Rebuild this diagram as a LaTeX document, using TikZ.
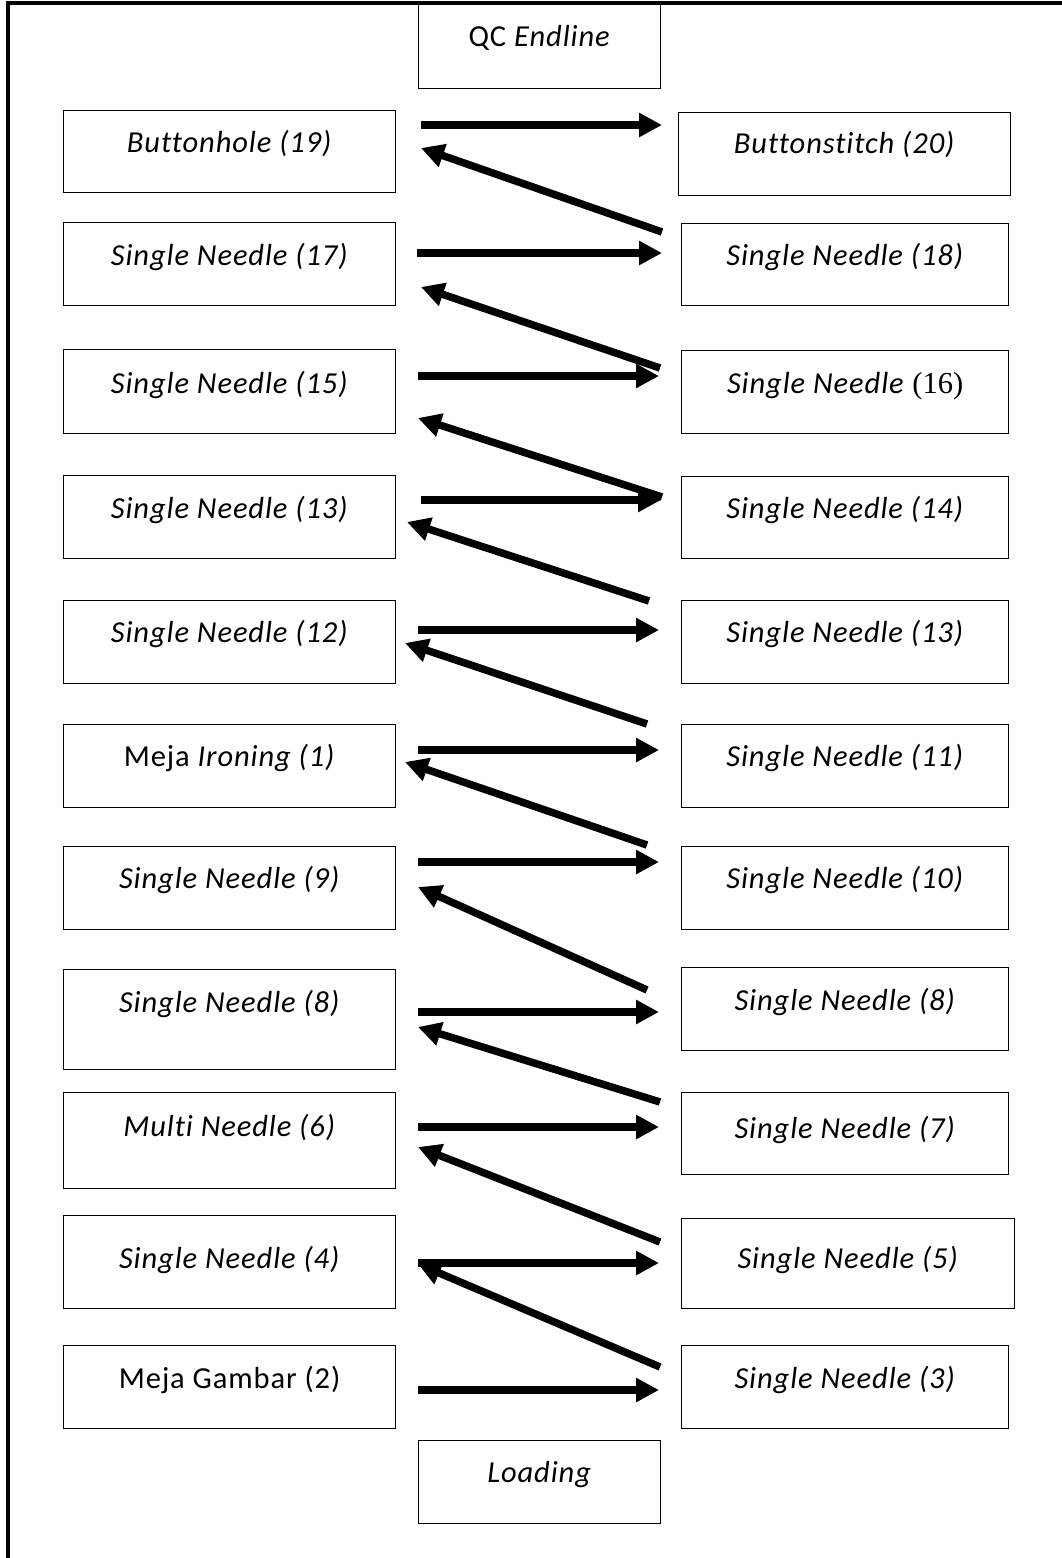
\documentclass[tikz,border=0pt]{standalone}
\usepackage{fontspec}
\setmainfont{Carlito}[Ligatures={NoCommon}, LetterSpace=3]
\newfontfamily\serifT{Liberation Serif}
\usetikzlibrary{arrows.meta}
\newcommand\bx[7]{\node[box, minimum width=#4pt, text height=#5pt, text depth=#6pt] (#1) at (#2,#3) {#7};}
\begin{document}
\begin{tikzpicture}[x=1pt,y=-1pt,
  box/.style={draw, line width=1.3pt, inner sep=0pt, anchor=north west, font=\fontsize{30.5}{36}\selectfont},
  flow/.style={line width=7.5pt, -{Triangle[length=23pt,width=23pt]}}]
\useasboundingbox (0,0) rectangle (1062,1558);
\coordinate (fb) at (8,1558);
\coordinate (ftl) at (8,3);
\coordinate (ftr) at (1062,3);
\draw[line width=4pt] (fb) -- (ftl) -- (ftr);

\bx{QC}{418}{4}{242}{42}{42}{QC \textit{Endline}}
\bx{L1}{63}{110}{332}{42}{40}{\textit{Buttonhole (19)}}
\bx{R1}{678}{112}{332}{41}{42}{\textit{Buttonstitch (20)}}
\bx{L2}{63}{222}{332}{43}{40}{\textit{Single Needle (17)}}
\bx{R2}{681}{223}{327}{42}{40}{\textit{Single Needle (18)}}
\bx{L3}{63}{349}{332}{44}{40}{\textit{Single Needle (15)}}
\bx{R3}{681}{350}{327}{43}{40}{\textit{Single Needle} {\serifT (16)}}
\bx{L4}{63}{475}{332}{43}{40}{\textit{Single Needle (13)}}
\bx{R4}{681}{476}{327}{42}{40}{\textit{Single Needle (14)}}
\bx{L5}{63}{600}{332}{42}{41}{\textit{Single Needle (12)}}
\bx{R5}{681}{600}{327}{42}{41}{\textit{Single Needle (13)}}
\bx{L6}{63}{724}{332}{42}{41}{Meja \textit{Ironing (1)}}
\bx{R6}{681}{724}{327}{42}{41}{\textit{Single Needle (11)}}
\bx{L7}{63}{846}{332}{42}{41}{\textit{Single Needle (9)}}
\bx{R7}{681}{846}{327}{42}{41}{\textit{Single Needle (10)}}
\bx{L8}{63}{969}{332}{43}{57}{\textit{Single Needle (8)}}
\bx{R8}{681}{967}{327}{43}{40}{\textit{Single Needle (8)}}
\bx{L9}{63}{1092}{332}{44}{52}{\textit{Multi Needle (6)}}
\bx{R9}{681}{1092}{327}{46}{36}{\textit{Single Needle (7)}}
\bx{L10}{63}{1215}{332}{53}{40}{\textit{Single Needle (4)}}
\bx{R10}{681}{1218}{333}{50}{40}{\textit{Single Needle (5)}}
\bx{L11}{63}{1345}{332}{43}{40}{Meja Gambar (2)}
\bx{R11}{681}{1345}{327}{43}{40}{\textit{Single Needle (3)}}
\bx{LD}{418}{1440}{242}{42}{41}{\textit{Loading}}

% right-going arrows
\coordinate (r1s) at (421,125);  \coordinate (r1e) at (662,125);
\coordinate (r2s) at (417,253);  \coordinate (r2e) at (662,253);
\coordinate (r3s) at (418,376);  \coordinate (r3e) at (659,376);
\coordinate (r4s) at (421,500);  \coordinate (r4e) at (661,500);
\coordinate (r5s) at (418,630);  \coordinate (r5e) at (659,630);
\coordinate (r6s) at (418,750);  \coordinate (r6e) at (659,750);
\coordinate (r7s) at (418,862);  \coordinate (r7e) at (659,862);
\coordinate (r8s) at (418,1012); \coordinate (r8e) at (659,1012);
\coordinate (r9s) at (418,1127); \coordinate (r9e) at (659,1127);
\coordinate (r10s) at (418,1263); \coordinate (r10e) at (659,1263);
\coordinate (r11s) at (418,1390); \coordinate (r11e) at (659,1390);
\foreach \i in {1,...,11} {\draw[flow] (r\i s) -- (r\i e);}

% left-going arrows
\coordinate (l1s) at (662,232);  \coordinate (l1e) at (421,148);
\coordinate (l2s) at (660,368);  \coordinate (l2e) at (421,287);
\coordinate (l3s) at (662,497);  \coordinate (l3e) at (418,418);
\coordinate (l4s) at (649,601);  \coordinate (l4e) at (407,522);
\coordinate (l5s) at (647,724);  \coordinate (l5e) at (405,643);
\coordinate (l6s) at (647,845);  \coordinate (l6e) at (405,762);
\coordinate (l7s) at (647,990);  \coordinate (l7e) at (418,887);
\coordinate (l8s) at (660,1102); \coordinate (l8e) at (418,1027);
\coordinate (l9s) at (660,1242); \coordinate (l9e) at (418,1147);
\coordinate (l10s) at (660,1367); \coordinate (l10e) at (418,1264);
\foreach \i in {1,...,10} {\draw[flow] (l\i s) -- (l\i e);}
\end{tikzpicture}
\end{document}
